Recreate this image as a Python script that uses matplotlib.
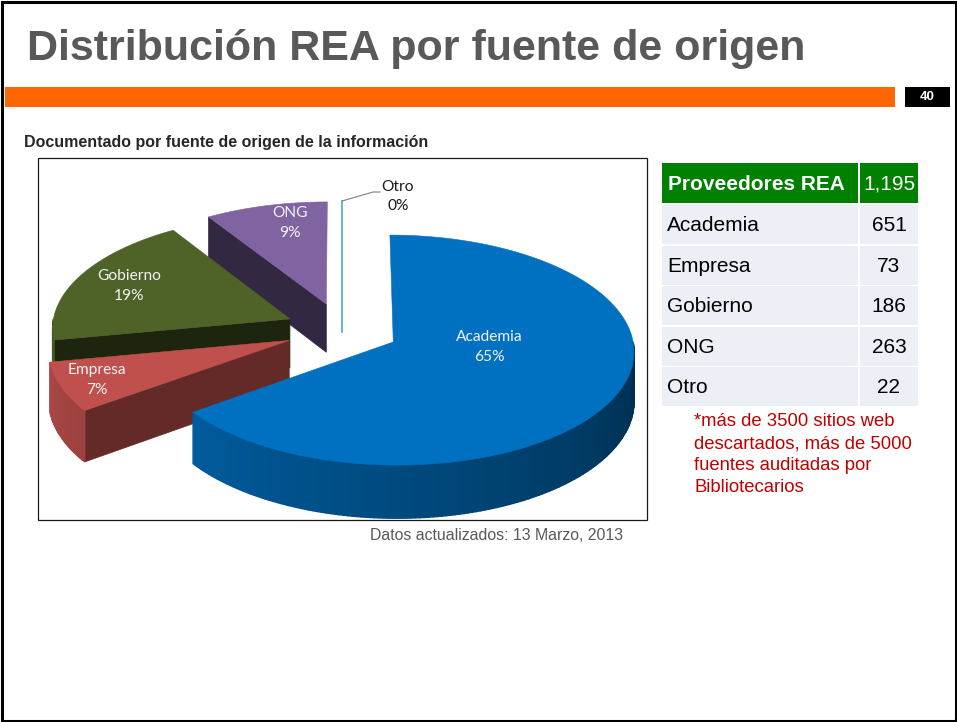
import numpy as np
import matplotlib
matplotlib.use("Agg")
import matplotlib.pyplot as plt
import matplotlib.colors as mcolors
from matplotlib.patches import Polygon, Rectangle

# ---------------- data ----------------
title = "Distribución REA por fuente de origen"
subtitle = "Documentado por fuente de origen de la información"
page_number = "40"
footnote = "Datos actualizados: 13 Marzo, 2013"

categories = ["Academia", "Empresa", "Gobierno", "ONG", "Otro"]
pct_values = [65, 7, 19, 9, 0]
slice_colors = ["#0070C0", "#C0504D", "#4F6228", "#8064A2", "#4BACC6"]

table_header = ["Proveedores REA", "1,195"]
table_names = ["Academia", "Empresa", "Gobierno", "ONG", "Otro"]
table_counts = [651, 73, 186, 263, 22]

note_lines = ["*más de 3500 sitios web",
              "descartados, más de 5000",
              "fuentes auditadas por",
              "Bibliotecarios"]

# ---------------- style / layout ----------------
W, H_PX = 957, 722
CX, CY, RX, RY = 342.0, 329.6, 238.0, 112.7
PERSP = 0.07
DEPTH = 49.0
EXPLODE = 0.24
cut_shade = [0.45, 0.52, 0.38, 0.40, 0.5]
label_r = [0.40, 0.85, 0.76, 0.80, 0.0]
label_dang = [21.0, 0.0, 0.0, -4.0, 0.0]
LAB_SIZE = 11.2

fig = plt.figure(figsize=(W / 100, H_PX / 100), dpi=100)
ax = fig.add_axes([0, 0, 1, 1])
ax.set_xlim(0, W)
ax.set_ylim(H_PX, 0)
ax.axis("off")

# slide frame
ax.add_patch(Rectangle((1.5, 1.5), W - 3, H_PX - 3, fill=False, ec="black", lw=2.2, zorder=100))

# title
ax.text(27, 60, title, family="Liberation Sans", weight="bold", fontsize=31,
        color="#595959", va="baseline", ha="left")

# orange bar and page number
ax.add_patch(Rectangle((5, 87), 890, 20, fc="#FF6600", ec="none"))
ax.add_patch(Rectangle((905, 87), 45, 20, fc="black", ec="none"))
ax.text(927.5, 97.5, page_number, color="white", fontsize=9.5, weight="bold",
        family="Liberation Sans", ha="center", va="center")

# subtitle
ax.text(24, 143, subtitle, family="Liberation Sans", weight="bold", fontsize=11.5,
        color="#262626", ha="left", va="center")

# chart box
ax.add_patch(Rectangle((38, 158), 609, 362, fill=False, ec="#1a1a1a", lw=0.9, zorder=50))

# footnote
ax.text(370, 536, footnote, family="Liberation Sans", fontsize=11.4, color="#595959",
        ha="left", va="center")


# ---------------- 3D pie ----------------
def proj(X, Y, Z):
    d = 1 + PERSP * Y
    return CX + RX * X / d, CY + (-RY * Y + DEPTH * Z) / d


def shade(c, f):
    rgb = np.array(mcolors.to_rgb(c)) * f
    return tuple(np.clip(rgb, 0, 1))


total = float(sum(pct_values))
slices = []
cum = 0.0
for i, v in enumerate(pct_values):
    a0 = 90.0 - 360.0 * cum / total
    a1 = a0 - 360.0 * v / total
    cum += v
    m = np.radians((a0 + a1) / 2)
    ex, ey = EXPLODE * np.cos(m), EXPLODE * np.sin(m)
    depth_key = ey + 0.5 * np.sin(m)
    slices.append(dict(i=i, a0=a0, a1=a1, m=m, ex=ex, ey=ey, key=depth_key))

order = sorted(slices, key=lambda s: -s["key"])

for rank, s in enumerate(order):
    i = s["i"]
    col = slice_colors[i]
    ex, ey, a0, a1 = s["ex"], s["ey"], s["a0"], s["a1"]
    z = 10 + rank * 3
    if pct_values[i] == 0:
        t = np.radians(a0)
        p_top = proj(ex + np.cos(t), ey + np.sin(t), 0)
        p_v = proj(ex, ey, 0.6)
        ax.plot([p_top[0], p_v[0]], [p_top[1], p_v[1]], color=col, lw=1.2, zorder=z)
        continue
    # cut faces
    for ang, normal in ((a0, a0 + 90), (a1, a1 - 90)):
        if np.sin(np.radians(normal)) < -0.01:
            t = np.radians(ang)
            pts = [proj(ex, ey, 0), proj(ex + np.cos(t), ey + np.sin(t), 0),
                   proj(ex + np.cos(t), ey + np.sin(t), 1), proj(ex, ey, 1)]
            c = shade(col, cut_shade[i])
            ax.add_patch(Polygon(pts, closed=True, fc=c, ec=c, lw=0.5, zorder=z))
    # outer side (front part only), shaded by angle
    for k in range(-2, 2):
        lo, hi = max(a1, -180 + 360 * k), min(a0, 360 * k)
        if hi - lo <= 0:
            continue
        n = max(2, int(hi - lo) + 1)
        ts = np.linspace(lo, hi, n)
        for j in range(n - 1):
            t0, t1 = np.radians(ts[j]), np.radians(ts[j + 1])
            pts = [proj(ex + np.cos(t0), ey + np.sin(t0), 0), proj(ex + np.cos(t1), ey + np.sin(t1), 0),
                   proj(ex + np.cos(t1), ey + np.sin(t1), 1), proj(ex + np.cos(t0), ey + np.sin(t0), 1)]
            u = (((ts[j] + ts[j + 1]) / 2) % 360 - 180) / 180
            c = shade(col, 0.92 - 0.52 * u)
            ax.add_patch(Polygon(pts, closed=True, fc=c, ec=c, lw=1.0, zorder=z + 1))
    # top face
    ts = np.radians(np.linspace(a1, a0, max(3, int(a0 - a1) * 2)))
    pts = [proj(ex, ey, 0)] + [proj(ex + np.cos(t), ey + np.sin(t), 0) for t in ts]
    ax.add_patch(Polygon(pts, closed=True, fc=col, ec=col, lw=0.4, zorder=z + 2))

# labels
lab_font = ["Lato", "DejaVu Sans"]
for s in slices:
    i = s["i"]
    if pct_values[i] == 0:
        t = np.radians(s["a0"])
        ax_, ay_ = proj(s["ex"] + np.cos(t), s["ey"] + np.sin(t), 0)
        ax.plot([ax_, ax_ + 31, ax_ + 38], [ay_, ay_ - 9, ay_ - 9], color="#7F7F7F", lw=0.8, zorder=60)
        ax.text(ax_ + 56, ay_ - 14, categories[i], family=lab_font, fontsize=LAB_SIZE, color="#1a1a1a",
                ha="center", va="center", zorder=61)
        ax.text(ax_ + 56, ay_ + 5, f"{pct_values[i]}%", family=lab_font, fontsize=LAB_SIZE, color="#1a1a1a",
                ha="center", va="center", zorder=61)
        continue
    ang = s["m"] + np.radians(label_dang[i])
    lx, ly = proj(s["ex"] + label_r[i] * np.cos(ang), s["ey"] + label_r[i] * np.sin(ang), 0)
    ax.text(lx, ly - 9.8, categories[i], family=lab_font, fontsize=LAB_SIZE, color="#F2F2F2",
            ha="center", va="center", zorder=60)
    ax.text(lx, ly + 9.8, f"{pct_values[i]}%", family=lab_font, fontsize=LAB_SIZE, color="#F2F2F2",
            ha="center", va="center", zorder=60)

# ---------------- table ----------------
TX0, TSPLIT, TX1 = 662, 858, 918
HEAD_TOP, HEAD_H = 163, 40
ROW_TOP, ROW_STEP, ROW_H = 205, 40.6, 39
ax.add_patch(Rectangle((TX0, HEAD_TOP), TSPLIT - TX0, HEAD_H, fc="#008000", ec="none"))
ax.add_patch(Rectangle((TSPLIT + 2, HEAD_TOP), TX1 - TSPLIT - 2, HEAD_H, fc="#008000", ec="none"))
ax.text(668, HEAD_TOP + HEAD_H / 2 + 1, table_header[0], family="Liberation Sans", weight="bold",
        fontsize=15, color="white", ha="left", va="center")
ax.text((TSPLIT + 2 + TX1) / 2, HEAD_TOP + HEAD_H / 2 + 1, table_header[1], family="Liberation Sans",
        fontsize=15, color="white", ha="center", va="center")
for r, (name, cnt) in enumerate(zip(table_names, table_counts)):
    y0 = ROW_TOP + r * ROW_STEP
    ax.add_patch(Rectangle((TX0, y0), TSPLIT - TX0, ROW_H, fc="#ECEFF5", ec="none"))
    ax.add_patch(Rectangle((TSPLIT + 2, y0), TX1 - TSPLIT - 2, ROW_H, fc="#ECEFF5", ec="none"))
    ax.text(667, y0 + ROW_H / 2 + 1, name, family="Liberation Sans", fontsize=15, color="black",
            ha="left", va="center")
    ax.text((TSPLIT + 2 + TX1) / 2, y0 + ROW_H / 2 + 1, str(cnt), family="Liberation Sans", fontsize=15,
            color="black", ha="center", va="center")

# note
for k, line in enumerate(note_lines):
    ax.text(694, 422 + k * 21.8, line, family="Liberation Sans", fontsize=13.3, color="#C00000",
            ha="left", va="center")

fig.savefig("out.png", dpi=100)
